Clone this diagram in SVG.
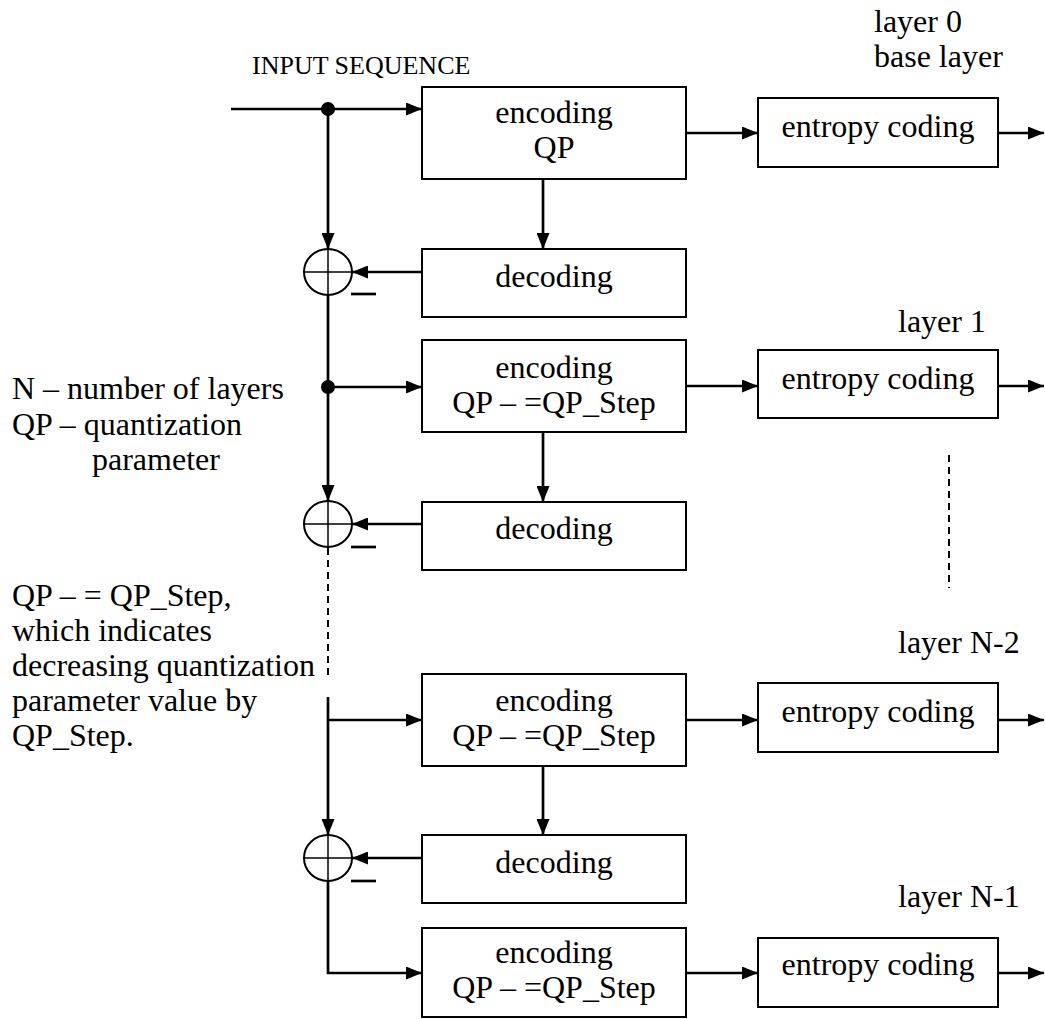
<svg xmlns="http://www.w3.org/2000/svg" width="1045" height="1019" viewBox="0 0 1045 1019">
<style>
text{font-family:"Liberation Serif","Times New Roman",serif;font-size:32px;fill:#000}
.c{text-anchor:middle}
.box{fill:#fff;stroke:#000;stroke-width:2}
.ln{fill:none;stroke:#000;stroke-width:2.7}
.dash{fill:none;stroke:#000;stroke-width:2;stroke-dasharray:7 5}
.sum{fill:none;stroke:#000;stroke-width:2}
.thin{stroke:#000;stroke-width:1.5}
</style>
<defs>
<marker id="ah" markerWidth="16" markerHeight="13" refX="16" refY="6.5" orient="auto" markerUnits="userSpaceOnUse">
<path d="M0,0 L16,6.5 L0,13 Z" fill="#000"/>
</marker>
</defs>
<rect width="1045" height="1019" fill="#fff"/>

<g id="labels">
<text x="252" y="74" style="font-size:26px">INPUT SEQUENCE</text>
<text x="874" y="32">layer 0</text>
<text x="874" y="67">base layer</text>
<text x="898" y="332">layer 1</text>
<text x="898" y="653">layer N-2</text>
<text x="898" y="907">layer N-1</text>
<text x="12" y="399">N – number of layers</text>
<text x="12" y="435">QP – quantization</text>
<text x="92" y="470">parameter</text>
<text x="12" y="606">QP – = QP_Step,</text>
<text x="12" y="641">which indicates</text>
<text x="12" y="676">decreasing quantization</text>
<text x="12" y="711">parameter value by</text>
<text x="12" y="746">QP_Step.</text>
</g>

<g id="connectors">
<line class="ln" x1="231" y1="109" x2="422" y2="109" marker-end="url(#ah)"/>
<line class="ln" x1="328" y1="109" x2="328" y2="249" marker-end="url(#ah)"/>
<line class="ln" x1="328" y1="295" x2="328" y2="501" marker-end="url(#ah)"/>
<line class="ln" x1="328" y1="387" x2="422" y2="387" marker-end="url(#ah)"/>
<line class="dash" x1="328" y1="548" x2="328" y2="680"/>
<line class="ln" x1="328" y1="697" x2="328" y2="835" marker-end="url(#ah)"/>
<line class="ln" x1="328" y1="720" x2="422" y2="720" marker-end="url(#ah)"/>
<polyline class="ln" points="328,881 328,973 422,973" marker-end="url(#ah)"/>
<line class="ln" x1="543" y1="179" x2="543" y2="249" marker-end="url(#ah)"/>
<line class="ln" x1="543" y1="432" x2="543" y2="502" marker-end="url(#ah)"/>
<line class="ln" x1="543" y1="766" x2="543" y2="835" marker-end="url(#ah)"/>
<line class="ln" x1="422" y1="272" x2="352" y2="272" marker-end="url(#ah)"/>
<line class="ln" x1="422" y1="524" x2="352" y2="524" marker-end="url(#ah)"/>
<line class="ln" x1="422" y1="858" x2="352" y2="858" marker-end="url(#ah)"/>
<line class="ln" x1="686" y1="133" x2="758" y2="133" marker-end="url(#ah)"/>
<line class="ln" x1="686" y1="386" x2="758" y2="386" marker-end="url(#ah)"/>
<line class="ln" x1="686" y1="720" x2="758" y2="720" marker-end="url(#ah)"/>
<line class="ln" x1="686" y1="973" x2="758" y2="973" marker-end="url(#ah)"/>
<line class="ln" x1="998" y1="133" x2="1044" y2="133" marker-end="url(#ah)"/>
<line class="ln" x1="998" y1="386" x2="1044" y2="386" marker-end="url(#ah)"/>
<line class="ln" x1="998" y1="720" x2="1044" y2="720" marker-end="url(#ah)"/>
<line class="ln" x1="998" y1="973" x2="1044" y2="973" marker-end="url(#ah)"/>
<line class="dash" x1="949" y1="455" x2="949" y2="588"/>
<circle cx="328" cy="109" r="7" fill="#000"/>
<circle cx="328" cy="387" r="7" fill="#000"/>
</g>

<g id="sum1">
<ellipse class="sum" cx="328" cy="272" rx="24" ry="23"/>
<line class="thin" x1="304" y1="272" x2="352" y2="272"/>
<line class="thin" x1="328" y1="249" x2="328" y2="295"/>
<line class="ln" x1="351" y1="294" x2="376" y2="294"/>
</g>
<g id="sum2">
<ellipse class="sum" cx="328" cy="524" rx="24" ry="23"/>
<line class="thin" x1="304" y1="524" x2="352" y2="524"/>
<line class="thin" x1="328" y1="501" x2="328" y2="547"/>
<line class="ln" x1="351" y1="547" x2="376" y2="547"/>
</g>
<g id="sum3">
<ellipse class="sum" cx="328" cy="858" rx="24" ry="23"/>
<line class="thin" x1="304" y1="858" x2="352" y2="858"/>
<line class="thin" x1="328" y1="835" x2="328" y2="881"/>
<line class="ln" x1="351" y1="881" x2="376" y2="881"/>
</g>

<g id="enc0"><rect class="box" x="422" y="87" width="264" height="92"/><text class="c" x="554" y="123">encoding</text><text class="c" x="554" y="158">QP</text></g>
<g id="dec0"><rect class="box" x="422" y="249" width="264" height="68"/><text class="c" x="554" y="287">decoding</text></g>
<g id="ent0"><rect class="box" x="758" y="98" width="240" height="69"/><text class="c" x="878" y="137">entropy coding</text></g>

<g id="enc1"><rect class="box" x="422" y="340" width="264" height="92"/><text class="c" x="554" y="378">encoding</text><text class="c" x="554" y="413">QP – =QP_Step</text></g>
<g id="dec1"><rect class="box" x="422" y="502" width="264" height="68"/><text class="c" x="554" y="539">decoding</text></g>
<g id="ent1"><rect class="box" x="758" y="350" width="240" height="68"/><text class="c" x="878" y="389">entropy coding</text></g>

<g id="enc2"><rect class="box" x="422" y="674" width="264" height="92"/><text class="c" x="554" y="711">encoding</text><text class="c" x="554" y="746">QP – =QP_Step</text></g>
<g id="dec2"><rect class="box" x="422" y="835" width="264" height="68"/><text class="c" x="554" y="873">decoding</text></g>
<g id="ent2"><rect class="box" x="758" y="683" width="240" height="69"/><text class="c" x="878" y="722">entropy coding</text></g>

<g id="enc3"><rect class="box" x="422" y="928" width="264" height="89"/><text class="c" x="554" y="963">encoding</text><text class="c" x="554" y="998">QP – =QP_Step</text></g>
<g id="ent3"><rect class="box" x="758" y="938" width="240" height="69"/><text class="c" x="878" y="975">entropy coding</text></g>
</svg>
